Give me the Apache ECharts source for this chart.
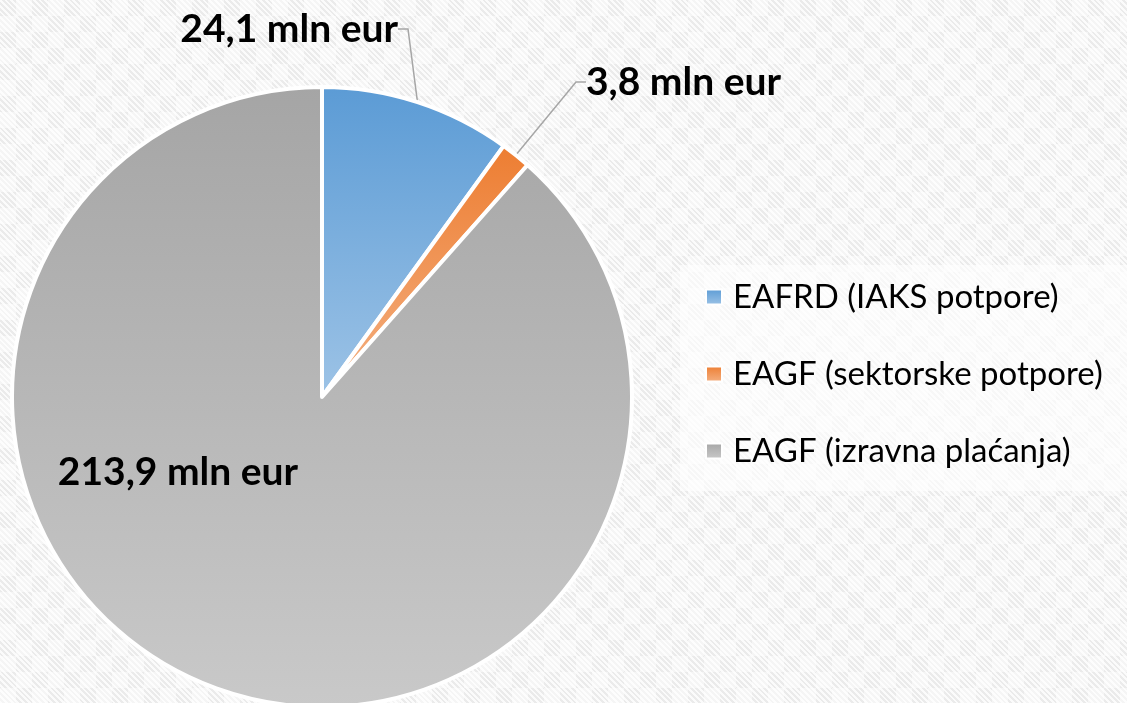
<!DOCTYPE html>
<html>
<head>
<meta charset="utf-8">
<script src="https://cdn.jsdelivr.net/npm/echarts@6/dist/echarts.min.js"></script>
<style>
  html, body { margin: 0; padding: 0; }
  #main {
    width: 1127px;
    height: 703px;
    background-color: #ebebeb;
    background-image:
      repeating-linear-gradient(45deg, rgba(255,255,255,0.8) 0 2px, rgba(255,255,255,0) 2px 4px),
      conic-gradient(rgba(255,255,255,0.5) 0 25%, rgba(0,0,0,0) 0 50%, rgba(255,255,255,0.5) 0 75%, rgba(0,0,0,0) 0);
    background-size: auto, 32px 32px;
  }
</style>
</head>
<body>
<div id="main"></div>
<script>
// podaci
var categories = ["EAFRD (IAKS potpore)", "EAGF (sektorske potpore)", "EAGF (izravna plaćanja)"];
var values = [24.1, 3.8, 213.9];
var unit = "mln eur";

var gradients = [
  ["#5b9bd5", "#9dc3e6"],
  ["#ed7d31", "#f4b183"],
  ["#a5a5a5", "#c9c9c9"]
];

// gdje stoje oznake (x, y, poravnanje)
var labelSpots = [
  { x: 398, y: 29, align: "right" },
  { x: 586, y: 82, align: "left" },
  { x: 178, y: 472, align: "center" }
];

function grad(c) {
  return new echarts.graphic.LinearGradient(0, 0, 0, 1, [
    { offset: 0, color: c[0] },
    { offset: 1, color: c[1] }
  ]);
}

var chart = echarts.init(document.getElementById("main"));

var pieData = [];
for (var i = 0; i < categories.length; i++) {
  pieData.push({
    name: categories[i],
    value: values[i],
    itemStyle: { color: grad(gradients[i]) },
    labelLine: { show: i < 2 }
  });
}

chart.setOption({
  backgroundColor: "transparent",
  animation: false,
  legend: {
    orient: "vertical",
    left: 680,
    top: 265,
    padding: [15, 90, 23, 25],
    backgroundColor: "rgba(255,255,255,0.6)",
    icon: "rect",
    itemWidth: 16,
    itemHeight: 15,
    itemGap: 43,
    data: categories,
    textStyle: {
      fontFamily: "Lato",
      fontSize: 33,
      color: "#000",
      lineHeight: 34,
      padding: [0, 0, 0, 6]
    }
  },
  series: [
    {
      type: "pie",
      center: [322, 397],
      radius: 310,
      startAngle: 90,
      clockwise: true,
      itemStyle: { borderColor: "#fff", borderWidth: 4 },
      label: {
        show: true,
        overflow: "none",
        fontFamily: "Lato",
        fontWeight: "bold",
        fontSize: 39,
        color: "#000",
        formatter: function (p) {
          return String(p.value).replace(".", ",") + " " + unit;
        }
      },
      labelLine: {
        show: true,
        length: 20,
        length2: 10,
        lineStyle: { color: "#a6a6a6", width: 1.5 }
      },
      labelLayout: function (params) {
        var s = labelSpots[params.dataIndex];
        return { x: s.x, y: s.y, align: s.align, verticalAlign: "middle", width: 400 };
      },
      emphasis: { disabled: true },
      data: pieData
    }
  ]
});
</script>
</body>
</html>
